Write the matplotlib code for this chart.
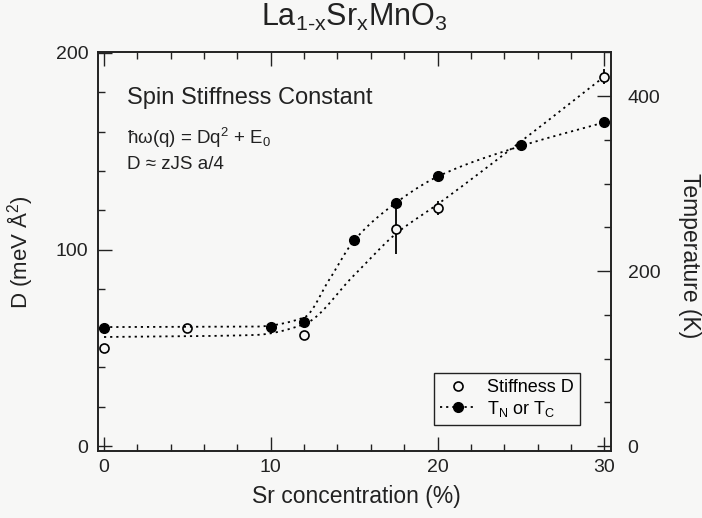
import numpy as np
import matplotlib
matplotlib.use("Agg")
import matplotlib.pyplot as plt
from matplotlib.lines import Line2D
from matplotlib.ticker import MultipleLocator

plt.rcParams['font.family'] = ['Liberation Sans', 'DejaVu Sans']
plt.rcParams['mathtext.fontset'] = 'custom'
plt.rcParams['mathtext.rm'] = 'Liberation Sans'
plt.rcParams['mathtext.it'] = 'Liberation Sans'
plt.rcParams['mathtext.default'] = 'regular'

# ---- data ----
sr_stiff = [0, 5, 12, 17.5, 20, 30]
stiff_D = [49.7, 60, 56.3, 110.7, 121, 188]
stiff_err = [0, 0, 0, 13, 3.5, 4]

sr_T = [0, 10, 12, 15, 17.5, 20, 25, 30]
T_vals = [135, 136, 142, 235, 278, 309, 344, 370]

# guide-to-the-eye curves (knots)
guide_D_x = [0, 9, 12, 15, 17.5, 20, 25, 30]
guide_D_y = [55.5, 56.5, 62, 87, 108, 123, 155, 188]
guide_T_x = [0, 9, 12, 13.5, 15, 17.5, 20, 25, 30]
guide_T_y = [136, 136.5, 147, 190, 235, 278, 308, 343, 370]

xticks_major = [0, 10, 20, 30]
left_ticks = [0, 100, 200]
right_ticks = [0, 200, 400]


def pchip(xk, yk, xs):
    xk = np.asarray(xk, float); yk = np.asarray(yk, float)
    h = np.diff(xk); d = np.diff(yk) / h
    n = len(xk)
    m = np.zeros(n)
    for k in range(1, n - 1):
        if d[k - 1] * d[k] <= 0:
            m[k] = 0
        else:
            w1 = 2 * h[k] + h[k - 1]; w2 = h[k] + 2 * h[k - 1]
            m[k] = (w1 + w2) / (w1 / d[k - 1] + w2 / d[k])
    m[0] = d[0]; m[-1] = d[-1]
    idx = np.clip(np.searchsorted(xk, xs) - 1, 0, n - 2)
    t = (xs - xk[idx]) / h[idx]
    h00 = 2 * t**3 - 3 * t**2 + 1; h10 = t**3 - 2 * t**2 + t
    h01 = -2 * t**3 + 3 * t**2; h11 = t**3 - t**2
    return (h00 * yk[idx] + h10 * h[idx] * m[idx] + h01 * yk[idx + 1]
            + h11 * h[idx] * m[idx + 1])


bg = '#f7f7f6'
fig = plt.figure(figsize=(7.02, 5.18), dpi=100, facecolor=bg)
ax = fig.add_axes([98 / 702, 1 - 451 / 518, 513 / 702, 399 / 518])
ax.set_facecolor(bg)
ax2 = ax.twinx()

ax.set_xlim(-0.36, 30.4)
ax.set_ylim(-2.5, 200.5)
ax2.set_ylim(-5.7, 450.5)

dot = (0, (1.2, 2.2))
xs = np.linspace(0, 30, 400)
ax.plot(xs, pchip(guide_D_x, guide_D_y, xs), color='k', lw=1.3, ls=dot)
ax2.plot(xs, pchip(guide_T_x, guide_T_y, xs), color='k', lw=1.3, ls=dot)

ax.errorbar(sr_stiff, stiff_D, yerr=stiff_err, fmt='none', ecolor='k',
            elinewidth=1.3, capsize=0)
ax.plot(sr_stiff, stiff_D, 'o', ms=6.5, mfc=bg, mec='k', mew=1.2, zorder=5)
ax2.plot(sr_T, T_vals, 'o', ms=7, mfc='k', mec='k', zorder=5)

# ticks
ax.set_xticks(xticks_major)
ax.xaxis.set_minor_locator(MultipleLocator(2))
ax.set_yticks(left_ticks)
ax.yaxis.set_minor_locator(MultipleLocator(20))
ax2.set_yticks(right_ticks)
ax2.yaxis.set_minor_locator(MultipleLocator(50))

ax.tick_params(axis='both', which='both', direction='in', top=True,
               right=False, labelsize=14, width=1.0, colors='#222222')
ax.tick_params(axis='both', which='major', length=10)
ax.tick_params(axis='both', which='minor', length=5)
ax.tick_params(axis='y', pad=7)
ax.tick_params(axis='x', pad=6)
ax2.tick_params(axis='y', which='both', direction='in', labelsize=14,
                width=1.0, pad=12, colors='#222222')
ax2.tick_params(axis='y', which='major', length=10)
ax2.tick_params(axis='y', which='minor', length=5)

for a in (ax, ax2):
    for s in a.spines.values():
        s.set_linewidth(1.2)
        s.set_color('#222222')

# texts
fig.text(354.5 / 702, 1 - 17 / 518, r"La$_{1\text{-}x}$Sr$_x$MnO$_3$",
         ha='center', va='center', fontsize=22, color='#222222')
fig.text(356 / 702, 1 - 497 / 518, "Sr concentration (%)", ha='center',
         va='center', fontsize=16.5, color='#222222')
fig.text(20 / 702, 1 - 252 / 518, "D (meV Å$^2$)", ha='center', va='center',
         rotation=90, fontsize=16, color='#222222')
fig.text(689 / 702, 1 - 256 / 518, "Temperature (K)", ha='center',
         va='center', rotation=270, fontsize=16.5, color='#222222')

ax.text(0.057, 0.885, "Spin Stiffness Constant", transform=ax.transAxes,
        fontsize=17, color='#222222', va='center')
ax.text(0.057, 0.785, "ħω(q) = Dq$^2$ + E$_0$", transform=ax.transAxes,
        fontsize=13.5, color='#222222', va='center')
ax.text(0.057, 0.718, "D ≈ zJS a/4", transform=ax.transAxes,
        fontsize=13.5, color='#222222', va='center')

h1 = Line2D([], [], ls='none', marker='o', ms=6.5, mfc=bg, mec='k', mew=1.2)
h2 = Line2D([], [], ls=dot, lw=1.3, color='k', marker='o', ms=7, mfc='k')
leg = ax2.legend([h1, h2], ["Stiffness D", "T$_N$ or T$_C$"],
                 loc='lower right', bbox_to_anchor=(0.94, 0.065),
                 borderaxespad=0, fontsize=13, frameon=True, fancybox=False,
                 edgecolor='#222222', facecolor=bg, framealpha=1,
                 handlelength=2.0, labelspacing=0.15, borderpad=0.35,
                 handletextpad=0.6)
leg.get_frame().set_linewidth(1.0)

fig.savefig("out.png", dpi=100, facecolor=bg)
